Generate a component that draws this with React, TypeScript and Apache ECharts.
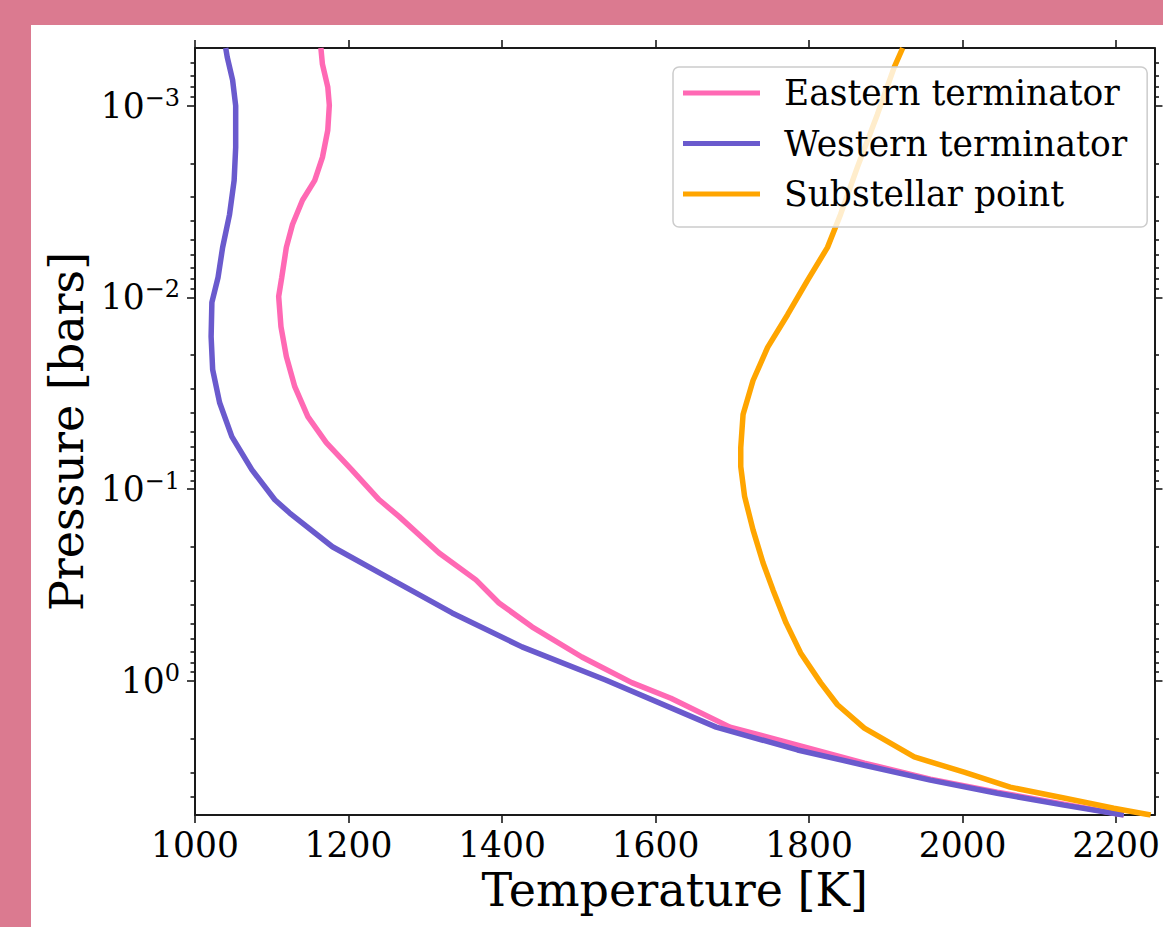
import React, { useEffect, useRef } from "react";
import * as echarts from "echarts";

const FONT = "DejaVu Serif";
const INK = "#000000";
const SPINE = "#1a1a1a";

// Temperature (K) / Pressure (bar) profiles
const easternP = [5.0e-4, 6.07e-4, 8.0e-4, 9.93e-4, 1.34e-3, 1.86e-3, 2.45e-3, 3.11e-3, 4.16e-3, 5.48e-3, 7.87e-3, 9.89e-3, 1.42e-2, 2.03e-2, 2.92e-2, 4.18e-2, 5.71e-2, 7.91e-2, 0.1135, 0.139, 0.215, 0.297, 0.392, 0.522, 0.75, 1.02, 1.23, 1.74, 2.16, 2.68, 3.25, 3.8, 4.39, 5.0];
const easternT = [1164, 1166, 1173, 1175, 1173, 1166, 1156, 1140, 1127, 1119, 1113, 1109, 1112, 1119, 1130, 1147, 1171, 1204, 1240, 1266, 1318, 1366, 1396, 1439, 1504, 1569, 1620, 1697, 1785, 1872, 1958, 2045, 2132, 2210];

const westernP = [5.0e-4, 5.58e-4, 7.36e-4, 1.0e-3, 1.65e-3, 2.45e-3, 3.69e-3, 5.48e-3, 7.87e-3, 1.06e-2, 1.6e-2, 2.38e-2, 3.53e-2, 5.32e-2, 7.91e-2, 0.1135, 0.1327, 0.1995, 0.297, 0.4416, 0.664, 0.988, 1.74, 2.29, 2.75, 3.29, 3.85, 4.44, 5.0];
const westernT = [1040, 1042, 1049, 1053, 1053, 1051, 1045, 1036, 1030, 1022, 1021, 1023, 1032, 1048, 1074, 1104, 1123, 1179, 1257, 1335, 1426, 1535, 1679, 1785, 1872, 1958, 2045, 2132, 2210];

const substellarP = [5.0e-4, 6.29e-4, 1.11e-3, 2.09e-3, 3.69e-3, 5.48e-3, 8.15e-3, 1.23e-2, 1.82e-2, 2.71e-2, 4.08e-2, 6.07e-2, 7.63e-2, 0.109, 0.163, 0.242, 0.335, 0.498, 0.714, 1.02, 1.33, 1.76, 2.49, 2.99, 3.58, 4.08, 4.61, 5.0];
const substellarT = [1922, 1911, 1889, 1863, 1841, 1824, 1798, 1772, 1746, 1727, 1714, 1711, 1711, 1716, 1727, 1740, 1753, 1770, 1789, 1815, 1837, 1872, 1937, 2002, 2062, 2132, 2197, 2245];

const seriesNames = ["Eastern terminator", "Western terminator", "Substellar point"];
const seriesColors = ["#ff69b4", "#6a5acd", "#ffa500"];

const xTicks = [1000, 1200, 1400, 1600, 1800, 2000, 2200];
const yMajorTicks = [0.001, 0.01, 0.1, 1];
const yMinorTicks = [0.0006, 0.0007, 0.0008, 0.0009, 0.002, 0.003, 0.004, 0.005, 0.006, 0.007, 0.008, 0.009, 0.02, 0.03, 0.04, 0.05, 0.06, 0.07, 0.08, 0.09, 0.2, 0.3, 0.4, 0.5, 0.6, 0.7, 0.8, 0.9, 2, 3, 4];
const yExponentLabels: Record<string, string> = { "-3": "−3", "-2": "−2", "-1": "−1", "0": "0" };

const pairs = (t: number[], p: number[]) => t.map((v, i) => [v, p[i]]);

export default function App() {
  const ref = useRef<HTMLDivElement>(null);
  useEffect(() => {
    const chart = echarts.init(ref.current!, null, { renderer: "svg" });
    const tickStyle = { color: SPINE, width: 1.6 };
    const lineStyle = { color: SPINE, width: 2 };
    const yBase = { type: "log", logBase: 10, min: 5e-4, max: 5, inverse: true, splitLine: { show: false } };
    const option = {
      animation: false,
      textStyle: { fontFamily: FONT },
      grid: { left: 164, top: 23, right: 4, bottom: 112, containLabel: false },
      legend: {
        orient: "vertical",
        left: 642,
        top: 42,
        padding: [8, 20, 15, 10],
        itemGap: 14.5,
        itemWidth: 77,
        itemHeight: 5,
        icon: "rect",
        backgroundColor: "rgba(255,255,255,0.8)",
        borderColor: "#cccccc",
        borderWidth: 1.5,
        borderRadius: 6,
        textStyle: { fontFamily: FONT, fontSize: 34.5, color: INK, lineHeight: 36, padding: [0, 0, 0, 19] },
        data: seriesNames,
      },
      xAxis: [
        {
          type: "value",
          position: "bottom",
          min: 1000,
          max: 2250,
          axisLine: { show: true, onZero: false, lineStyle },
          axisTick: { show: true, customValues: xTicks, length: 8, lineStyle: tickStyle },
          axisLabel: { customValues: xTicks, formatter: (v: number) => String(v), fontFamily: FONT, fontSize: 34.5, color: INK, margin: 12 },
          splitLine: { show: false },
          name: "Temperature [K]",
          nameLocation: "middle",
          nameGap: 52,
          nameTextStyle: { fontFamily: FONT, fontSize: 46, color: INK },
        },
        {
          type: "value",
          position: "top",
          min: 1000,
          max: 2250,
          axisLine: { show: true, onZero: false, lineStyle },
          axisTick: { show: true, customValues: xTicks, length: 8, lineStyle: tickStyle },
          axisLabel: { show: false },
          splitLine: { show: false },
        },
      ],
      yAxis: [
        {
          ...yBase,
          position: "left",
          axisLine: { show: true, onZero: false, lineStyle },
          axisTick: { show: true, customValues: yMajorTicks, length: 8, lineStyle: tickStyle },
          axisLabel: {
            customValues: yMajorTicks,
            margin: 15,
            formatter: (v: number) => {
              const e = String(Math.round(Math.log10(v)));
              return `{b|10}{e|${yExponentLabels[e] ?? e}}`;
            },
            rich: {
              b: { fontFamily: FONT, fontSize: 34.5, color: INK, lineHeight: 40 },
              e: { fontFamily: FONT, fontSize: 24, color: INK, lineHeight: 24, verticalAlign: "top" },
            },
          },
          name: "Pressure [bars]",
          nameLocation: "middle",
          nameRotate: 90,
          nameGap: 104,
          nameTextStyle: { fontFamily: FONT, fontSize: 46, color: INK },
        },
        {
          ...yBase,
          position: "left",
          axisLine: { show: false },
          axisTick: { show: true, customValues: yMinorTicks, length: 4.5, lineStyle: tickStyle },
          axisLabel: { show: false },
        },
        {
          ...yBase,
          position: "right",
          axisLine: { show: true, onZero: false, lineStyle },
          axisTick: { show: true, customValues: yMajorTicks, length: 8, lineStyle: tickStyle },
          axisLabel: { show: false },
        },
        {
          ...yBase,
          position: "right",
          axisLine: { show: false },
          axisTick: { show: true, customValues: yMinorTicks, length: 4.5, lineStyle: tickStyle },
          axisLabel: { show: false },
        },
      ],
      series: [
        { t: easternT, p: easternP },
        { t: westernT, p: westernP },
        { t: substellarT, p: substellarP },
      ].map((s, i) => ({
        name: seriesNames[i],
        type: "line",
        xAxisIndex: 0,
        yAxisIndex: 0,
        data: pairs(s.t, s.p),
        showSymbol: false,
        symbol: "none",
        color: seriesColors[i],
        itemStyle: { color: seriesColors[i] },
        lineStyle: { color: seriesColors[i], width: 5.5 },
      })),
    };
    chart.setOption(option as any);
    return () => chart.dispose();
  }, []);
  return (
    <div style={{ position: "fixed", left: 0, top: 0, width: 1163, height: 927, background: "#db7a90", overflow: "hidden" }}>
      <div ref={ref} style={{ position: "absolute", left: 31, top: 25, width: 1132, height: 902, background: "#ffffff" }} />
    </div>
  );
}
